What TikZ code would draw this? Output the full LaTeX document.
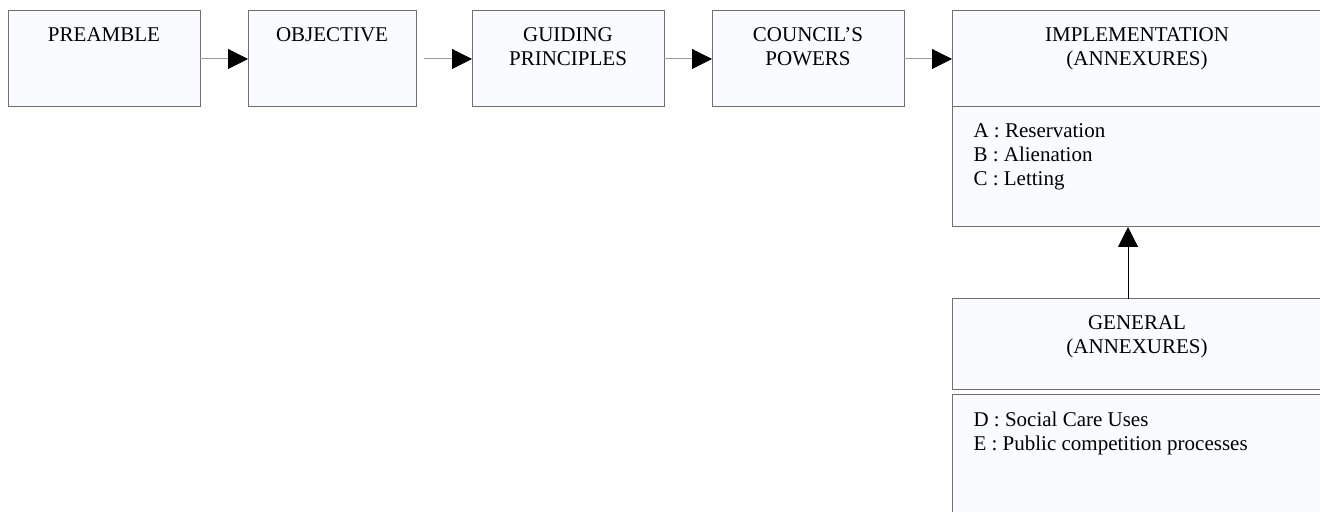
\documentclass[tikz,border=0pt]{standalone}
\usepackage{fontspec}
\setmainfont{Liberation Serif}
\usetikzlibrary{positioning, arrows.meta}
\definecolor{boxfill}{HTML}{FAFBFE}
\definecolor{boxline}{HTML}{707070}
\definecolor{linkgray}{HTML}{9A9A9A}

\begin{document}
\begin{tikzpicture}[node distance={24pt}, line width=0.5pt,
    font=\fontsize{10.5}{12}\selectfont,
    box/.style = {draw=boxline, fill=boxfill, minimum width=96pt, minimum height=48pt, inner sep=0pt, outer sep=0pt},
    heading/.style = {label={[anchor=north, yshift=-8pt, align=center, inner sep=0pt]north:{#1}}},
    entries/.style = {label={[anchor=north west, xshift=10.5pt, yshift=-8pt, align=left, inner sep=0pt]north west:{#1}}},
    link/.style = {draw=linkgray, -{Triangle[length=10pt, width=10pt, color=black]}}]
    \useasboundingbox (0,0) rectangle (660pt,-256pt);

    \node[box, anchor=north west, heading={PREAMBLE}] (preamble) at (4pt,-5.5pt) {};
    \node[box, minimum width=84pt, heading={OBJECTIVE}] (objective) [right=of preamble] {};
    \node[box, heading={GUIDING\\PRINCIPLES}] (guiding) [right=28pt of objective] {};
    \node[box, heading={COUNCIL’S\\POWERS}] (council) [right=of guiding] {};

    \node[box, minimum width=185pt, heading={IMPLEMENTATION\\(ANNEXURES)}] (impl) [right=of council] {};
    \node[box, minimum width=185pt, minimum height=60pt,
        entries={A : Reservation\\B : Alienation\\C : Letting}] (impllist) [below=0pt of impl] {};

    \node[box, minimum width=185pt, minimum height=45.5pt, heading={GENERAL\\(ANNEXURES)}] (general) [below=36pt of impllist] {};
    \node[box, minimum width=185pt, minimum height=62pt,
        entries={D : Social Care Uses\\E : Public competition processes}] (generallist) [below=2.5pt of general] {};

    \draw[link] (preamble) -- (objective);
    \draw[link, shorten <=4pt] (objective) -- (guiding);
    \draw[link] (guiding) -- (council);
    \draw[link] (council) -- (impl);
    \draw[-{Triangle[length=10pt, width=10pt]}] ([xshift=-4.5pt]general.north) -- ([xshift=-4.5pt]impllist.south);
\end{tikzpicture}
\end{document}
